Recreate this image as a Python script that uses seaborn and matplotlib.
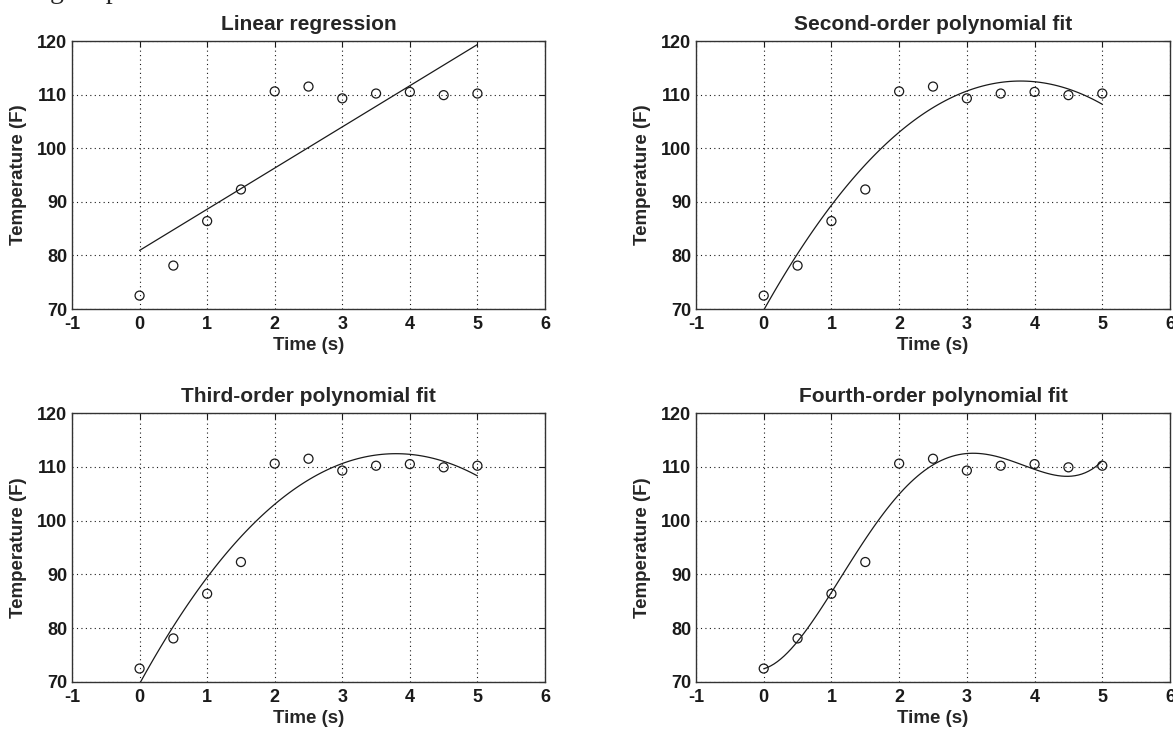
import numpy as np
import pandas as pd
import matplotlib
matplotlib.use("Agg")
import matplotlib.pyplot as plt
import seaborn as sns

# Messdaten: Temperatur über der Zeit
time_s = [0.0, 0.5, 1.0, 1.5, 2.0, 2.5, 3.0, 3.5, 4.0, 4.5, 5.0]
temp_f = [72.5, 78.1, 86.4, 92.3, 110.6, 111.5, 109.3, 110.2, 110.5, 109.9, 110.2]

fit_orders = [1, 2, 3, 4]
titles = ["Linear regression", "Second-order polynomial fit",
          "Third-order polynomial fit", "Fourth-order polynomial fit"]
x_ticks = [-1, 0, 1, 2, 3, 4, 5, 6]
y_ticks = [70, 80, 90, 100, 110, 120]

df = pd.DataFrame({"time": time_s, "temp": temp_f})

sns.set_theme(style="white")
plt.rcParams["font.family"] = ["Liberation Sans", "DejaVu Sans"]
plt.rcParams["font.weight"] = "bold"
plt.rcParams["axes.unicode_minus"] = False

W, H = 1173, 731
fig = plt.figure(figsize=(W / 100, H / 100), dpi=100)

# Achsenpositionen in Pixeln (links, oben, rechts, unten)
boxes = [(72, 41, 545, 309), (696, 41, 1170, 309),
         (72, 413, 545, 682), (696, 413, 1170, 682)]

for (l, t, r, b), order, title in zip(boxes, fit_orders, titles):
    ax = fig.add_axes([l / W, 1 - b / H, (r - l) / W, (b - t) / H])
    sns.regplot(data=df, x="time", y="temp", order=order, ci=None, ax=ax,
                color="k",
                scatter_kws=dict(s=42, facecolors="none", edgecolors="k",
                                 linewidths=0.9, alpha=1, zorder=3),
                line_kws=dict(color="k", linewidth=0.9, zorder=2))
    ax.set_xlim(-1, 6)
    ax.set_ylim(70, 120)
    ax.set_xticks(x_ticks)
    ax.set_yticks(y_ticks)
    ax.grid(True, linestyle=(0, (1, 3)), color="k", linewidth=0.8)
    ax.tick_params(direction="in", length=4, width=0.8, top=True, right=True,
                   labelsize=13, colors="k")
    ax.tick_params(axis="x", pad=5)
    ax.tick_params(axis="y", pad=3.5)
    for lab in ax.get_xticklabels() + ax.get_yticklabels():
        lab.set_fontweight("bold")
    for sp in ax.spines.values():
        sp.set_color("#333333")
        sp.set_linewidth(1)
    ax.set_title(title, fontsize=15, fontweight="bold", pad=8)
    ax.set_xlabel("Time (s)", fontsize=13.5, fontweight="bold", labelpad=3)
    ax.set_ylabel("Temperature (F)", fontsize=13.5, fontweight="bold", labelpad=7)

# abgeschnittener Textrest am oberen Rand
fig.text(50 / W, 1 + 2 / H, "g      p", va="baseline", fontsize=20,
         family="Liberation Serif", fontweight="normal")

fig.savefig("out.png", dpi=100, facecolor="white")
